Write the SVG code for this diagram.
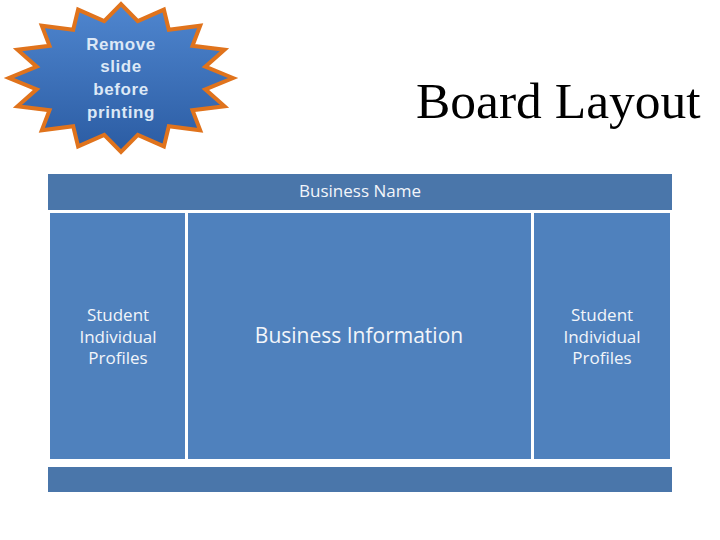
<svg xmlns="http://www.w3.org/2000/svg" width="720" height="540" viewBox="0 0 720 540">
<style>
.bar{fill:#4a76aa}
.panel{fill:#4f81bd}
.lbl{font-family:"Open Sans","Noto Sans",sans-serif;fill:#f2f5fa;text-anchor:middle}
.star{font-family:"Liberation Sans",Arial,sans-serif;font-weight:bold;font-size:17px;letter-spacing:0.6px;fill:#dce8f6;text-anchor:middle}
</style>
<defs>
<linearGradient id="sg" x1="0" y1="0" x2="0" y2="1">
<stop offset="0" stop-color="#4f86cf"/>
<stop offset="1" stop-color="#2b5ca3"/>
</linearGradient>
</defs>
<rect width="720" height="540" fill="#ffffff"/>
<g id="badge">
<polygon points="233,78 205.3,66.7 224.5,49.7 192.5,45.8 200.2,25.7 168.8,29.8 163.9,9.6 137.8,21.1 121,4 104.2,21.1 78.1,9.6 73.2,29.8 41.8,25.7 49.5,45.8 17.5,49.7 36.7,66.7 9,78 36.7,89.3 17.5,106.3 49.5,110.2 41.8,130.3 73.2,126.2 78.1,146.4 104.2,134.9 121,152 137.8,134.9 163.9,146.4 168.8,126.2 200.2,130.3 192.5,110.2 224.5,106.3 205.3,89.3" fill="url(#sg)" stroke="#e0731c" stroke-width="4" stroke-linejoin="miter"/>
<text class="star" x="121" y="50">Remove</text>
<text class="star" x="121" y="72">slide</text>
<text class="star" x="121" y="95">before</text>
<text class="star" x="121" y="118">printing</text>
</g>
<g id="title">
<text x="416" y="118" font-family="'Liberation Serif','Times New Roman',serif" font-size="51.5" fill="#000000">Board Layout</text>
</g>
<g id="business-name">
<rect class="bar" x="48" y="174" width="624" height="36"/>
<text class="lbl" x="360" y="197" font-size="17">Business Name</text>
</g>
<g id="left-profiles">
<rect class="panel" x="50" y="213" width="135" height="246"/>
<text class="lbl" x="118" y="321" font-size="17">Student</text>
<text class="lbl" x="118" y="343" font-size="17">Individual</text>
<text class="lbl" x="118" y="364" font-size="17">Profiles</text>
</g>
<g id="business-info">
<rect class="panel" x="188" y="213" width="343" height="246"/>
<text class="lbl" x="359" y="343" font-size="21">Business Information</text>
</g>
<g id="right-profiles">
<rect class="panel" x="534" y="213" width="136" height="246"/>
<text class="lbl" x="602" y="321" font-size="17">Student</text>
<text class="lbl" x="602" y="343" font-size="17">Individual</text>
<text class="lbl" x="602" y="364" font-size="17">Profiles</text>
</g>
<g id="footer">
<rect class="bar" x="48" y="467" width="624" height="25"/>
</g>
<g id="connectors"></g>
</svg>
